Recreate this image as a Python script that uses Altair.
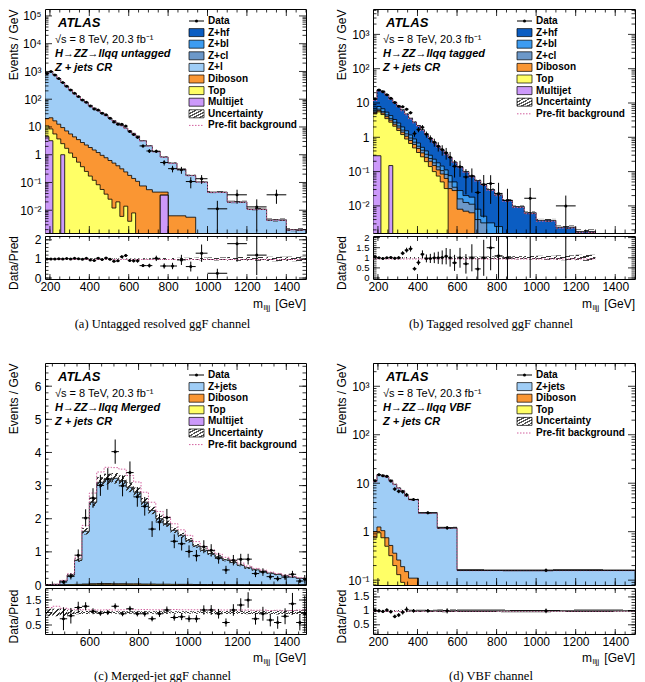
import math
import altair as alt
import pandas as pd

SANS = "Liberation Sans"
SERIF = "Liberation Serif"

COLORS = {"zhf": "#0b5dc2", "zbl": "#3d9cf0", "zcl": "#6c98c9", "zl": "#9fcdf6",
          "dib": "#fa9633", "top": "#ffff66", "mj": "#cc99fa"}
PREFIT_COLOR = "#d2609e"

# ---------------- (a) untagged resolved ggF ----------------
edges_a = [175, 195, 215, 235, 255, 275, 295, 315, 335, 355, 375, 395, 415, 435, 455,
           475, 495, 515, 535, 555, 575, 595, 615, 635, 655, 690, 720, 760, 800, 845,
           890, 940, 1000, 1100, 1200, 1300, 1400, 1500]
total_a = [850, 1000, 760, 550, 400, 290, 215, 160, 123, 95, 76, 60, 48, 39, 32, 26,
           21, 17, 13.8, 11.2, 9.1, 7.4, 5.9, 4.7,
           3.2, 2.1, 1.3, 0.83, 0.5, 0.3, 0.18, 0.105,
           0.045, 0.02, 0.011, 0.0045, 0.002]
dibcum_a = [20, 21.4, 16.6, 12.6, 9.5, 7.2, 5.6, 4.4, 3.5, 2.75, 2.24, 1.82, 1.48, 1.2,
            0.95, 0.78, 0.62, 0.5, 0.4, 0.31, 0.24, 0.18, 0.14, 0.11,
            0.075, 0.055, 0.045, 0.045, 0.0063, 0.0063, 0.0056, 0,
            0, 0, 0, 0, 0]
topcum_a = [11, 8.5, 5.6, 3.7, 2.5, 1.7, 1.15, 0.8, 0.54, 0.37, 0.25, 0.17, 0.12, 0.083,
            0.056, 0.038, 0.025, 0.012, 0.02, 0.006, 0.014, 0.004, 0.008, 0,
            0, 0, 0, 0.035, 0, 0, 0, 0,
            0, 0, 0, 0, 0]
mj_a = [4.5, 3.2, 0, 0, 1.0, 0, 0, 0, 0, 0, 0, 0, 0, 0,
        0, 0, 0, 0, 0, 0, 0, 0, 0, 0,
        0, 0, 0, 0.035, 0, 0, 0, 0,
        0, 0, 0, 0, 0]
ratio_a = [1.0, 1.0, 0.99, 1.01, 1.0, 1.02, 1.0, 1.03, 1.01, 0.98, 1.03, 0.95, 0.92, 1.04,
           0.97, 1.05, 0.98, 0.88, 0.9, 1.12, 1.18, 0.92, 0.9, 0.9,
           0.65, 0.65, 1.03, 0.63, 0.63, 0.95, 0.6, 1.3,
           0.25, 1.8, 1.2, 8.0, 0]
unc_a = [0.04, 0.03, 0.03, 0.03, 0.03, 0.03, 0.03, 0.03, 0.03, 0.03, 0.03, 0.03, 0.03, 0.03,
         0.03, 0.03, 0.03, 0.03, 0.03, 0.03, 0.03, 0.03, 0.03, 0.035,
         0.04, 0.04, 0.05, 0.05, 0.05, 0.06, 0.06, 0.07,
         0.08, 0.1, 0.1, 0.12, 0.12]
prefit_a = [0.97, 0.97, 0.97, 0.97, 0.97, 0.97, 0.97, 0.97, 0.97, 0.97, 0.97, 0.97, 0.97, 0.97,
            0.97, 0.97, 0.97, 0.97, 0.97, 0.97, 0.97, 0.97, 0.97, 0.97,
            0.97, 0.97, 0.97, 0.97, 0.97, 0.97, 0.97, 0.97,
            0.97, 0.97, 0.97, 0.97, 0.97]

# ---------------- (b) tagged resolved ggF ----------------
edges_b = [175, 195, 215, 235, 255, 275, 295, 315, 335, 355, 375, 395, 415, 435, 455,
           475, 495, 515, 535, 555, 575, 600, 630, 660, 690, 720, 750, 790, 830, 880,
           940, 1000, 1100, 1200, 1300]
total_b = [12.6, 24, 22, 17.4, 13.5, 10.5, 8.1, 6.3, 4.8, 3.6, 2.8, 2.2, 1.66, 1.26, 0.95,
           0.72, 0.55, 0.43, 0.33, 0.26,
           0.19, 0.138, 0.1, 0.074, 0.055, 0.042, 0.030, 0.021, 0.0145, 0.0095, 0.0063,
           0.0038, 0.0024, 0.0018]
zblcum_b = [6.6, 7.9, 6.8, 5.4, 4.3, 3.3, 2.6, 2.0, 1.55, 1.17, 0.89, 0.68, 0.51, 0.4, 0.3,
            0.23, 0.18, 0.145, 0.112, 0.076,
            0.05, 0.028, 0.02, 0.018, 0.008, 0.005, 0.0032, 0.0025, 0, 0, 0,
            0, 0, 0.0016]
zclcum_b = [5.75, 6.6, 5.6, 4.5, 3.55, 2.75, 2.14, 1.62, 1.26, 0.95, 0.72, 0.55, 0.42, 0.32,
            0.24, 0.18, 0.138, 0.107, 0.083, 0.05,
            0.035, 0.016, 0.0126, 0.0112, 0.004, 0.0032, 0, 0, 0, 0, 0,
            0, 0, 0]
dibcum_b = [5.25, 6.0, 5.1, 4.0, 3.16, 2.4, 1.86, 1.41, 1.07, 0.81, 0.62, 0.47, 0.35, 0.26,
            0.2, 0.15, 0.112, 0.085, 0.063, 0.032,
            0.028, 0.008, 0.007, 0.0063, 0, 0, 0, 0, 0, 0, 0,
            0, 0, 0]
topcum_b = [4.8, 5.5, 4.6, 3.5, 2.75, 2.1, 1.58, 1.2, 0.89, 0.66, 0.49, 0.36, 0.27, 0.195,
            0.14, 0.1, 0.074, 0.05, 0.032, 0,
            0, 0, 0, 0, 0, 0, 0, 0, 0, 0, 0,
            0, 0, 0]
mj_b = [0.29, 0.29, 0, 0, 0.15, 0, 0, 0, 0, 0, 0, 0, 0, 0,
        0, 0, 0, 0, 0, 0,
        0, 0, 0, 0, 0, 0, 0, 0, 0, 0, 0,
        0, 0, 0]
ratio_b = [1.05, 1.0, 0.97, 1.0, 1.02, 0.98, 1.0, 1.23, 1.38, 1.45, 0.46, 0.77, 1.18, 0.97,
           0.97, 1.0, 1.0, 1.02, 1.08, 1.0,
           0.75, 1.0, 0.7, 1.0, 0.45, 1.0, 1.5, 1.1, 1.0, 0, 2.65,
           0, 4.17, 0]
unc_b = [0.05, 0.04, 0.04, 0.04, 0.04, 0.04, 0.04, 0.04, 0.04, 0.04, 0.04, 0.04, 0.04, 0.04,
         0.04, 0.04, 0.04, 0.04, 0.04, 0.04,
         0.05, 0.05, 0.05, 0.06, 0.06, 0.06, 0.07, 0.07, 0.08, 0.08, 0.09,
         0.1, 0.12, 0.15]
prefit_b = [0.94, 0.94, 0.94, 0.94, 0.94, 0.94, 0.94, 0.94, 0.94, 0.94, 0.94, 0.94, 0.94, 0.94,
            0.94, 0.94, 0.94, 0.94, 0.94, 0.94,
            0.94, 0.94, 0.94, 0.94, 0.94, 0.94, 0.94, 0.94, 0.94, 0.94, 0.94,
            0.94, 0.94, 0.94]

# ---------------- (c) merged-jet ggF ----------------
edges_c = [420, 450, 480, 510, 540, 570, 600, 630, 660, 690, 720, 750, 780, 810, 840,
           870, 900, 930, 960, 990, 1020, 1050, 1080, 1110, 1140, 1170, 1200, 1230, 1260,
           1290, 1320, 1350, 1380, 1410, 1440, 1470, 1480]
total_c = [0.01, 0.02, 0.12, 0.3, 0.75, 1.62, 2.5, 3.1, 3.2, 3.22, 3.15, 2.95, 2.8, 2.5,
           2.25, 2.0, 1.85, 1.65, 1.5, 1.35, 1.18, 1.05, 0.95, 0.85, 0.76, 0.68, 0.6,
           0.52, 0.46, 0.41, 0.36, 0.32, 0.28, 0.24, 0.2, 0.18]
dibcum_c = [0, 0, 0.005, 0.012, 0.02, 0.03, 0.04, 0.045, 0.045, 0.04, 0.04, 0.035, 0.035,
            0.03, 0.03, 0.025, 0.025, 0.02, 0.02, 0.02, 0.015, 0.015, 0.015, 0.012, 0.012,
            0.01, 0.01, 0.01, 0.008, 0.008, 0.008, 0.006, 0.006, 0.005, 0.005, 0.005]
topcum_c = [0, 0, 0.002, 0.004, 0.007, 0.01, 0.012, 0.012, 0.01, 0.01, 0.008, 0.008, 0.006,
            0.006, 0.005, 0.005, 0.004, 0.004, 0.003, 0.003, 0.002, 0.002, 0.002, 0.002,
            0.001, 0.001, 0.001, 0.001, 0, 0, 0, 0, 0, 0, 0, 0]
ratio_c = [0, 0, 0.75, 0.87, 1.2, 1.25, 1.05, 0.97, 1.0, 1.25, 0.95, 1.15, 0.95, 0.95,
           0.75, 0.95, 1.1, 0.8, 0.83, 0.75, 0.75, 1.1, 1.1, 0.95, 0.6, 1.1, 1.3, 1.5,
           0.75, 0.95, 0.7, 0.6, 0.85, 1.35, 0.6, 0.95]
unc_c = [0.15, 0.15, 0.15, 0.1, 0.07, 0.06, 0.05, 0.05, 0.05, 0.05, 0.05, 0.05, 0.05, 0.05,
         0.05, 0.05, 0.05, 0.05, 0.05, 0.05, 0.05, 0.05, 0.06, 0.06, 0.06, 0.06, 0.06,
         0.07, 0.07, 0.07, 0.07, 0.08, 0.08, 0.08, 0.09, 0.1]
prefit_c = [1.2, 1.25, 1.17, 1.13, 1.12, 1.11, 1.11, 1.1, 1.11, 1.1, 1.11, 1.12, 1.11, 1.12,
            1.11, 1.11, 1.11, 1.12, 1.11, 1.11, 1.11, 1.11, 1.11, 1.1, 1.1, 1.1, 1.1, 1.1,
            1.09, 1.1, 1.08, 1.09, 1.07, 1.08, 1.1, 1.11]

# ---------------- (d) VBF ----------------
edges_d = [175, 195, 215, 235, 255, 275, 295, 315, 335, 355, 405, 500, 600, 1500]
total_d = [11, 15, 14.5, 13.5, 11.5, 9.5, 8.0, 7.0, 5.5, 4.6, 2.45, 1.2, 0.16]
dibcum_d = [1.0, 1.25, 1.05, 0.75, 0.52, 0.36, 0.26, 0.19, 0.15, 0.11, 0, 0, 0]
topcum_d = [0.75, 0.95, 0.75, 0.5, 0.32, 0.2, 0.13, 0.09, 0, 0, 0, 0, 0]
ratio_d = [1.02, 1.0, 0.98, 1.03, 0.97, 0.8, 0.85, 0.95, 1.05, 1.0, 1.0, 1.0, 1.0]
unc_d = [0.04, 0.03, 0.03, 0.03, 0.03, 0.03, 0.03, 0.04, 0.04, 0.04, 0.04, 0.05, 0.05]
prefit_d = [0.98, 0.98, 0.98, 0.98, 0.98, 0.98, 0.98, 0.98, 0.98, 0.98, 0.98, 0.98, 0.98]

# ---------------- helpers ----------------
DUMMY = pd.DataFrame({"k": [0]})


def hatch(n, dark="#333333", frac=0.42):
    stops = []
    clear = "rgba(255,255,255,0)"
    for k in range(n):
        a, b, c = k / n, (k + frac) / n, (k + 1) / n
        stops += [alt.GradientStop(color=dark, offset=a), alt.GradientStop(color=dark, offset=b),
                  alt.GradientStop(color=clear, offset=b), alt.GradientStop(color=clear, offset=c)]
    return alt.LinearGradient(gradient="linear", stops=stops, x1=0, y1=0, x2=1, y2=1)


HATCH_BAND = hatch(3)
HATCH_LEG = hatch(5, dark="#555555", frac=0.45)


def step_rows(edges, vals, floor):
    rows = []
    for i, v in enumerate(vals):
        rows.append({"x": edges[i], "y": v if v > 0 else floor, "b": floor, "i": i})
    v = vals[-1]
    rows.append({"x": edges[-1], "y": v if v > 0 else floor, "b": floor, "i": len(vals)})
    return rows


def outline_rows(edges, vals, floor):
    return ([{"x": edges[0], "y": floor, "b": floor, "i": -1}] + step_rows(edges, vals, floor)
            + [{"x": edges[-1], "y": floor, "b": floor, "i": len(vals) + 1}])


def log_label_expr():
    labels = {-3: "10⁻³", -2: "10⁻²", -1: "10⁻¹", 0: "1", 1: "10", 2: "10²",
              3: "10³", 4: "10⁴", 5: "10⁵"}
    s = "'" + labels[-3] + "'"
    for k in range(-2, 6):
        s = f"datum.value > {0.5 * 10 ** k:g} ? '{labels[k]}' : ({s})"
    return s


def log_ticks(lo, hi):
    majors, minors = [], []
    for k in range(-5, 7):
        for m in range(1, 10):
            v = m * 10.0 ** k
            if lo <= v <= hi:
                (majors if m == 1 else minors).append(v)
    return majors, minors


def lin_ticks(lo, hi, step):
    a = math.ceil(lo / step - 1e-9)
    b = math.floor(hi / step + 1e-9)
    return [round(k * step, 6) for k in range(a, b + 1)]


def text(s, x, y, size=10, weight="normal", style="normal", align="left",
         baseline="middle", font=SANS):
    return alt.Chart(DUMMY).mark_text(
        text=s, font=font, fontSize=size, fontWeight=weight, fontStyle=style,
        align=align, baseline=baseline, color="black").encode(x=alt.value(x), y=alt.value(y))


def vrule(x0, x1, y, color="black", dash=None, width=1.0):
    kw = dict(color=color, strokeWidth=width)
    if dash:
        kw["strokeDash"] = dash
    return alt.Chart(DUMMY).mark_rule(**kw).encode(
        x=alt.value(x0), x2=alt.value(x1), y=alt.value(y))


def x_ticks(Xf, majors, minors, H, lmaj, lmin):
    out = []
    for vals, L in ((majors, lmaj), (minors, lmin)):
        df = pd.DataFrame({"tx": vals})
        base = alt.Chart(df).mark_rule(color="black", strokeWidth=0.8, clip=True)
        out.append(base.encode(x=Xf("tx"), y=alt.value(0), y2=alt.value(L)))
        out.append(base.encode(x=Xf("tx"), y=alt.value(H), y2=alt.value(H - L)))
    return out


def y_ticks(Yf, majors, minors, W, lmaj, lmin):
    out = []
    for vals, L in ((majors, lmaj), (minors, lmin)):
        df = pd.DataFrame({"ty": vals})
        base = alt.Chart(df).mark_rule(color="black", strokeWidth=0.8, clip=True)
        out.append(base.encode(y=Yf("ty"), x=alt.value(0), x2=alt.value(L)))
        out.append(base.encode(y=Yf("ty"), x=alt.value(W), x2=alt.value(W - L)))
    return out


def legend(entries, x0, y0, dy):
    out = []
    for k, (kind, label, col) in enumerate(entries):
        y = y0 + k * dy
        if kind == "data":
            out.append(vrule(x0, x0 + 15, y))
            out.append(alt.Chart(DUMMY).mark_circle(color="black", size=9, opacity=1).encode(
                x=alt.value(x0 + 7.5), y=alt.value(y)))
        elif kind == "fill":
            out.append(alt.Chart(DUMMY).mark_rect(fill=COLORS[col], stroke="black", strokeWidth=0.7).encode(
                x=alt.value(x0), x2=alt.value(x0 + 15), y=alt.value(y - 4), y2=alt.value(y + 4)))
        elif kind == "unc":
            out.append(alt.Chart(DUMMY).mark_rect(fill=HATCH_LEG, stroke="black", strokeWidth=0.7).encode(
                x=alt.value(x0), x2=alt.value(x0 + 15), y=alt.value(y - 4), y2=alt.value(y + 4)))
        elif kind == "prefit":
            out.append(vrule(x0, x0 + 15, y, color=PREFIT_COLOR, dash=[1.5, 1.5]))
        out.append(text(label, x0 + 19, y, size=10, weight="bold"))
    return out


AX_COMMON = dict(ticks=False, tickSize=0, domain=False, grid=False, labelFont=SANS,
                 labelFontSize=12, labelColor="black", labelPadding=4, labelFlush=False,
                 labelOverlap=False, titleFont=SANS, titleFontSize=12,
                 titleFontWeight="normal", titleColor="black", titleAngle=270,
                 titleBaseline="middle")


def panel(cfg):
    edges = cfg["edges"]
    n = len(edges) - 1
    for key in ("ratio", "unc", "prefit"):
        assert len(cfg[key]) == n, (cfg["caption"], key, len(cfg[key]), n)
    for key, vals in cfg["stack"]:
        assert len(vals) == n, (cfg["caption"], key, len(vals), n)
    W, H, h = cfg["W"], cfg["H"], cfg["h"]
    log = cfg["log"]
    ylo, yhi = cfg["ydom"]
    floor = ylo / 1000.0 if log else 0.0
    xs = alt.Scale(domain=cfg["xdom"], nice=False, zero=False)
    if log:
        ys = alt.Scale(type="log", domain=[ylo, yhi], nice=False)
    else:
        ys = alt.Scale(domain=[ylo, yhi], nice=False, zero=False)
    ykw = dict(AX_COMMON)
    ykw.update(values=cfg["ylab"], title="Events / GeV", titleX=-32, titleY=0, titleAlign="right")
    if log:
        ykw["labelExpr"] = log_label_expr()
    yaxis = alt.Axis(**ykw)

    def Xm(f):
        return alt.X(f + ":Q", scale=xs, axis=None)

    def Ym(f):
        return alt.Y(f + ":Q", scale=ys, axis=yaxis)

    total = cfg["stack"][0][1]
    L = []
    for key, vals in cfg["stack"]:
        L.append(alt.Chart(pd.DataFrame(step_rows(edges, vals, floor))).mark_area(
            interpolate="step-after", color=COLORS[key], opacity=1, clip=True).encode(
            x=Xm("x"), y=Ym("y"), y2="b:Q"))
        L.append(alt.Chart(pd.DataFrame(outline_rows(edges, vals, floor))).mark_line(
            interpolate="step-after", color="black", strokeWidth=0.8, clip=True).encode(
            x=Xm("x"), y=Ym("y"), order="i:Q"))

    urows = [{"x": edges[i], "x2": edges[i + 1], "y": total[i] * (1 - cfg["unc"][i]),
              "y2": total[i] * (1 + cfg["unc"][i])} for i in range(n) if total[i] > 0]
    L.append(alt.Chart(pd.DataFrame(urows)).mark_rect(fill=HATCH_BAND, clip=True).encode(
        x=Xm("x"), x2="x2:Q", y=Ym("y"), y2="y2:Q"))

    pre = [total[i] * cfg["prefit"][i] for i in range(n)]
    L.append(alt.Chart(pd.DataFrame(step_rows(edges, pre, floor))).mark_line(
        interpolate="step-after", color=PREFIT_COLOR, strokeWidth=1, strokeDash=[1.5, 1.5],
        clip=True).encode(x=Xm("x"), y=Ym("y"), order="i:Q"))

    drows = []
    for i in range(n):
        r = cfg["ratio"][i]
        if r <= 0 or total[i] <= 0:
            continue
        w = edges[i + 1] - edges[i]
        d = total[i] * r
        err = math.sqrt(d * w) / w
        drows.append(dict(c=(edges[i] + edges[i + 1]) / 2, xlo=edges[i], xhi=edges[i + 1],
                          d=d, dlo=max(d - err, floor), dhi=d + err, r=r,
                          rlo=(d - err) / total[i], rhi=(d + err) / total[i]))
    ddf = pd.DataFrame(drows)
    L.append(alt.Chart(ddf).mark_rule(color="black", strokeWidth=1, clip=True).encode(
        x=Xm("c"), y=Ym("dlo"), y2="dhi:Q"))
    L.append(alt.Chart(ddf).mark_rule(color="black", strokeWidth=1, clip=True).encode(
        x=Xm("xlo"), x2="xhi:Q", y=Ym("d")))
    L.append(alt.Chart(ddf).mark_circle(color="black", size=9, opacity=1, clip=True).encode(
        x=Xm("c"), y=Ym("d")))

    xmaj = lin_ticks(cfg["xdom"][0], cfg["xdom"][1], 200)
    xmin = lin_ticks(cfg["xdom"][0], cfg["xdom"][1], 50)
    L += x_ticks(Xm, xmaj, xmin, H, 7, 3.5)
    if log:
        ymaj, ymin = log_ticks(ylo, yhi)
    else:
        ymaj, ymin = lin_ticks(ylo, yhi, 1), lin_ticks(ylo, yhi, 0.2)
    L += y_ticks(Ym, ymaj, ymin, W, 7, 3.5)

    L.append(text("ATLAS", 13, 14, size=13, weight="bold", style="italic"))
    L.append(text("√s = 8 TeV, 20.3 fb⁻¹", 10, 31, size=11))
    L.append(text(cfg["channel"], 10, 45, size=11, weight="bold", style="italic"))
    L.append(text("Z + jets CR", 10, 59, size=11, weight="bold", style="italic"))
    L += legend(cfg["legend"], 144, 12, 11.6)

    main = alt.layer(*L).properties(width=W, height=H)

    # ----- ratio -----
    rs = alt.Scale(domain=cfg["rdom"], nice=False, zero=False)
    xr_axis = alt.Axis(values=cfg["xlab"], format="d", labelFont=SANS, labelFontSize=12,
                       labelColor="black", labelPadding=2, ticks=False, tickSize=0,
                       domain=False, grid=False, title=None, labelFlush=False,
                       labelOverlap=False)
    rkw = dict(AX_COMMON)
    rkw.update(values=cfg["rlab"], title="Data/Pred", titleX=-32, titleY=h / 2 + 5,
               titleAlign="center", labelExpr="'' + datum.value",
               labelFontSize=cfg.get("rlabsize", 12))
    raxis = alt.Axis(**rkw)

    def Xr(f):
        return alt.X(f + ":Q", scale=xs, axis=xr_axis)

    def Yr(f):
        return alt.Y(f + ":Q", scale=rs, axis=raxis)

    R = []
    rurows = [{"x": edges[i], "x2": edges[i + 1], "y": 1 - cfg["unc"][i],
               "y2": 1 + cfg["unc"][i]} for i in range(n) if total[i] > 0]
    R.append(alt.Chart(pd.DataFrame(rurows)).mark_rect(fill=HATCH_BAND, clip=True).encode(
        x=Xr("x"), x2="x2:Q", y=Yr("y"), y2="y2:Q"))
    R.append(alt.Chart(pd.DataFrame(step_rows(edges, cfg["prefit"], 0))).mark_line(
        interpolate="step-after", color=PREFIT_COLOR, strokeWidth=1, strokeDash=[1.5, 1.5],
        clip=True).encode(x=Xr("x"), y=Yr("y"), order="i:Q"))
    R.append(alt.Chart(ddf).mark_rule(color="black", strokeWidth=1, clip=True).encode(
        x=Xr("c"), y=Yr("rlo"), y2="rhi:Q"))
    R.append(alt.Chart(ddf).mark_rule(color="black", strokeWidth=1, clip=True).encode(
        x=Xr("xlo"), x2="xhi:Q", y=Yr("r")))
    R.append(alt.Chart(ddf).mark_circle(color="black", size=9, opacity=1, clip=True).encode(
        x=Xr("c"), y=Yr("r")))
    R += x_ticks(Xr, xmaj, xmin, h, 5, 2.5)
    R += y_ticks(Yr, lin_ticks(cfg["rdom"][0], cfg["rdom"][1], cfg["rmajor"]),
                 lin_ticks(cfg["rdom"][0], cfg["rdom"][1], cfg["rminor"]), W, 7, 3.5)
    R.append(text("[GeV]", W, h + cfg["xt_dy"], size=12, align="right"))
    R.append(text("m", W - 43, h + cfg["xt_dy"], size=12, align="right"))
    R.append(text("lljj", W - 42.5, h + cfg["xt_dy"] + 4, size=7.5, align="left"))
    R.append(text(cfg["caption"], W / 2 - 13, h + cfg["cap_dy"], size=12.5, font=SERIF,
                  align="center"))
    ratio = alt.layer(*R).properties(width=W, height=h)
    return main, ratio


XLAB = [200, 400, 600, 800, 1000, 1200, 1400]

cfg_a = dict(edges=edges_a, stack=[("zl", total_a), ("dib", dibcum_a), ("top", topcum_a), ("mj", mj_a)],
             ratio=ratio_a, unc=unc_a, prefit=prefit_a, W=261, H=224, h=43, log=True,
             ydom=[10 ** -2.82, 10 ** 5.25], ylab=[1e-2, 1e-1, 1, 10, 100, 1e3, 1e4, 1e5],
             xdom=[175, 1500], xlab=XLAB, rdom=[-0.05, 2.2], rlab=[0, 1, 2], rmajor=1, rminor=0.2,
             channel="H→ZZ→llqq untagged",
             legend=[("data", "Data", None), ("fill", "Z+hf", "zhf"), ("fill", "Z+bl", "zbl"),
                     ("fill", "Z+cl", "zcl"), ("fill", "Z+l", "zl"), ("fill", "Diboson", "dib"),
                     ("fill", "Top", "top"), ("fill", "Multijet", "mj"),
                     ("unc", "Uncertainty", None), ("prefit", "Pre-fit background", None)],
             caption="(a) Untagged resolved ggF channel", xt_dy=25, cap_dy=45)

cfg_b = dict(edges=edges_b, stack=[("zhf", total_b), ("zbl", zblcum_b), ("zcl", zclcum_b),
                                   ("dib", dibcum_b), ("top", topcum_b), ("mj", mj_b)],
             ratio=ratio_b, unc=unc_b, prefit=prefit_b, W=262, H=224, h=43, log=True,
             ydom=[10 ** -2.79, 10 ** 3.74], ylab=[1e-2, 1e-1, 1, 10, 100, 1e3],
             xdom=[175, 1500], xlab=XLAB, rdom=[-0.05, 2.08], rlab=[0, 0.5, 1, 1.5, 2],
             rmajor=0.5, rminor=0.1, rlabsize=9.5,
             channel="H→ZZ→llqq tagged",
             legend=[("data", "Data", None), ("fill", "Z+hf", "zhf"), ("fill", "Z+bl", "zbl"),
                     ("fill", "Z+cl", "zcl"), ("fill", "Diboson", "dib"),
                     ("fill", "Top", "top"), ("fill", "Multijet", "mj"),
                     ("unc", "Uncertainty", None), ("prefit", "Pre-fit background", None)],
             caption="(b) Tagged resolved ggF channel", xt_dy=25, cap_dy=45)

cfg_c = dict(edges=edges_c, stack=[("zl", total_c), ("dib", dibcum_c), ("top", topcum_c)],
             ratio=ratio_c, unc=unc_c, prefit=prefit_c, W=261, H=222, h=46, log=False,
             ydom=[0, 6.7], ylab=[0, 1, 2, 3, 4, 5, 6],
             xdom=[420, 1480], xlab=[600, 800, 1000, 1200, 1400], rdom=[0.14, 1.98],
             rlab=[0.5, 1, 1.5], rmajor=0.5, rminor=0.1, rlabsize=11.5,
             channel="H→ZZ→llqq Merged",
             legend=[("data", "Data", None), ("fill", "Z+jets", "zl"), ("fill", "Diboson", "dib"),
                     ("fill", "Top", "top"), ("fill", "Multijet", "mj"),
                     ("unc", "Uncertainty", None), ("prefit", "Pre-fit background", None)],
             caption="(c) Merged-jet ggF channel", xt_dy=24, cap_dy=42)

cfg_d = dict(edges=edges_d, stack=[("zl", total_d), ("dib", dibcum_d), ("top", topcum_d)],
             ratio=ratio_d, unc=unc_d, prefit=prefit_d, W=262, H=222, h=46, log=True,
             ydom=[10 ** -1.1, 10 ** 3.48], ylab=[0.1, 1, 10, 100, 1000],
             xdom=[175, 1500], xlab=XLAB, rdom=[0.17, 1.82], rlab=[0.5, 1, 1.5],
             rmajor=0.5, rminor=0.1, rlabsize=11.5,
             channel="H→ZZ→llqq VBF",
             legend=[("data", "Data", None), ("fill", "Z+jets", "zl"), ("fill", "Diboson", "dib"),
                     ("fill", "Top", "top"),
                     ("unc", "Uncertainty", None), ("prefit", "Pre-fit background", None)],
             caption="(d) VBF channel", xt_dy=24, cap_dy=42)


def spacer(W, H):
    return alt.Chart(DUMMY).mark_point(opacity=0).encode(
        x=alt.value(0), y=alt.value(0)).properties(
        width=W, height=H, view=alt.ViewBackground(strokeOpacity=0, fillOpacity=0))


mA, rA = panel(cfg_a)
mB, rB = panel(cfg_b)
mC, rC = panel(cfg_c)
mD, rD = panel(cfg_d)

chart = alt.concat(
    mA, mB, rA, rB, spacer(261, 78), spacer(262, 78), mC, mD, rC, rD,
    columns=2, spacing={"row": 3, "column": 67}, bounds="flush",
).properties(
    padding={"left": 6, "top": 8, "right": 2, "bottom": 2},
    background="white",
).configure_view(stroke="black", strokeWidth=1)

chart.save("out.html", embed_options={"renderer": "svg", "actions": False})
